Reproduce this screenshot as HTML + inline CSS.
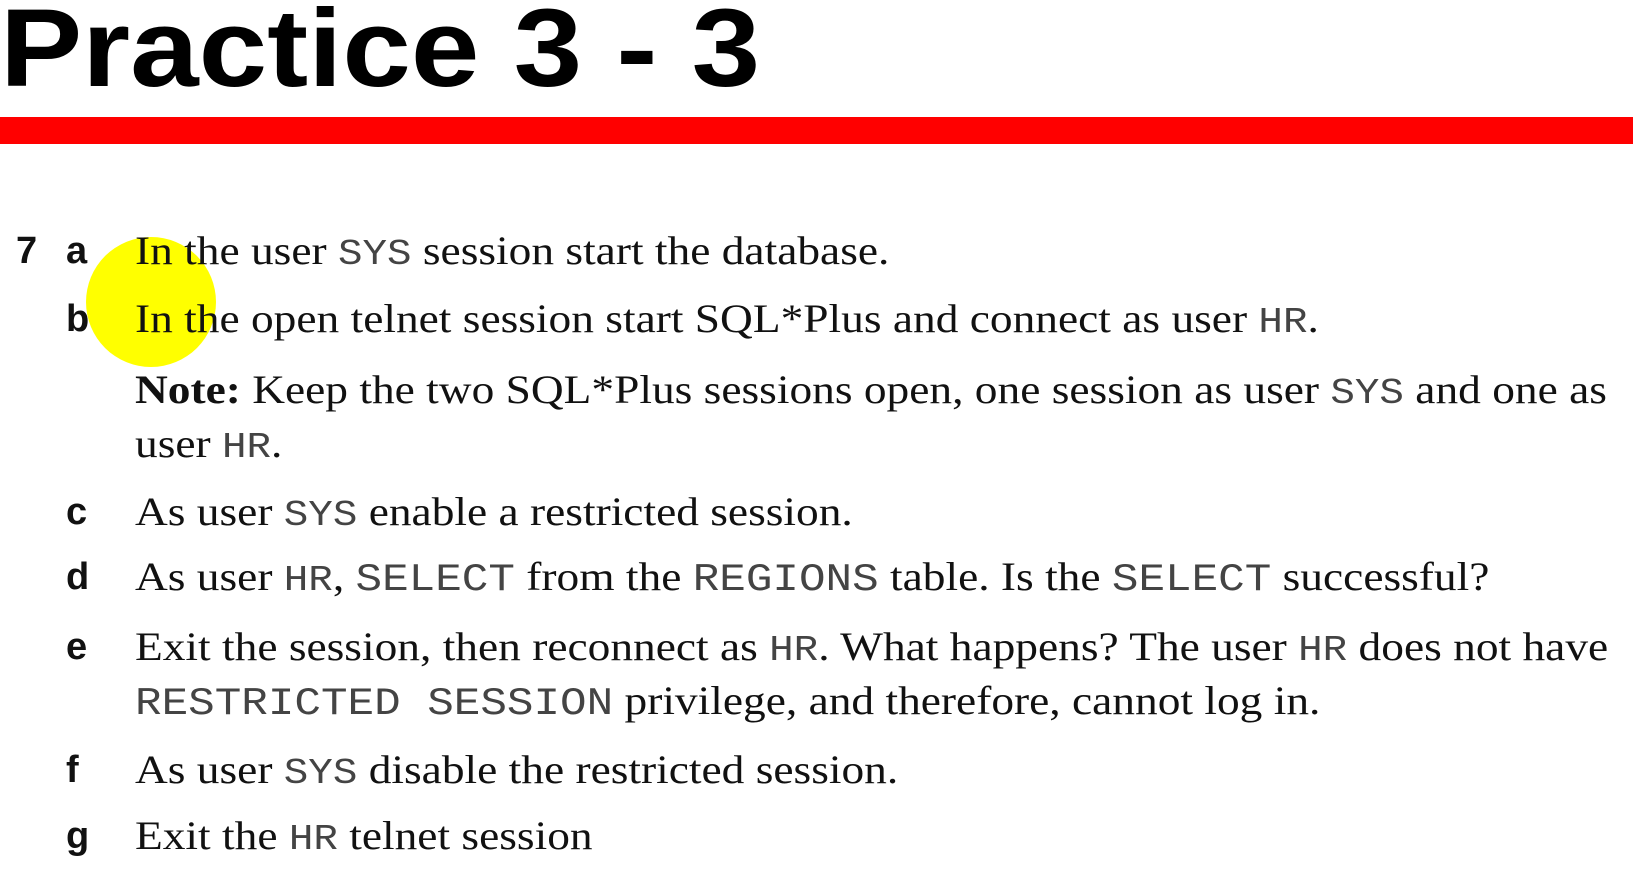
<!DOCTYPE html>
<html><head><meta charset="utf-8"><style>
html,body{margin:0;padding:0;background:#fff;}
body{width:1633px;height:881px;position:relative;overflow:hidden;}
.t{position:absolute;left:0;top:-6px;font-family:"Liberation Sans",sans-serif;font-weight:bold;font-size:110px;line-height:1;color:#000;transform-origin:0 0;transform:scaleX(1.12);white-space:nowrap;}
.bar{position:absolute;left:0;top:117px;width:1633px;height:27px;background:#f00;}
.circ{position:absolute;left:86px;top:237px;width:130px;height:130px;border-radius:50%;background:#ffff00;}
.l{position:absolute;font-family:"Liberation Serif",serif;font-size:40px;line-height:40px;color:#111;white-space:nowrap;left:135px;transform-origin:0 0;transform:scaleX(1.135);}
.k{position:absolute;font-family:"Liberation Sans",sans-serif;font-weight:bold;font-size:38px;line-height:40px;color:#111;}
.m{font-family:"Liberation Mono",monospace;color:#444;font-size:36px;}
.w{font-size:39px;}
</style></head><body>
<div class="t">Practice 3 - 3</div>
<div class="bar"></div>
<div class="circ"></div>
<div class="k" style="left:16px;top:231px">7</div>
<div class="k" style="left:66px;top:231px">a</div>
<div class="k" style="left:66px;top:299px">b</div>
<div class="k" style="left:66px;top:492px">c</div>
<div class="k" style="left:66px;top:557px">d</div>
<div class="k" style="left:66px;top:627px">e</div>
<div class="k" style="left:66px;top:750px">f</div>
<div class="k" style="left:66px;top:816px">g</div>
<div class="l" style="top:231px">In the user <span class="m">SYS</span> session start the database.</div>
<div class="l" style="top:299px">In the open telnet session start SQL*Plus and connect as user <span class="m">HR</span>.</div>
<div class="l" style="top:370px"><b>Note:</b> Keep the two SQL*Plus sessions open, one session as user <span class="m">SYS</span> and one as</div>
<div class="l" style="top:424px">user <span class="m">HR</span>.</div>
<div class="l" style="top:492px">As user <span class="m">SYS</span> enable a restricted session.</div>
<div class="l" style="top:557px">As user <span class="m">HR</span>, <span class="m w">SELECT</span> from the <span class="m w">REGIONS</span> table. Is the <span class="m w">SELECT</span> successful?</div>
<div class="l" style="top:627px">Exit the session, then reconnect as <span class="m">HR</span>. What happens? The user <span class="m">HR</span> does not have</div>
<div class="l" style="top:681px"><span class="m w">RESTRICTED SESSION</span> privilege, and therefore, cannot log in.</div>
<div class="l" style="top:750px">As user <span class="m">SYS</span> disable the restricted session.</div>
<div class="l" style="top:816px">Exit the <span class="m">HR</span> telnet session</div>
</body></html>
